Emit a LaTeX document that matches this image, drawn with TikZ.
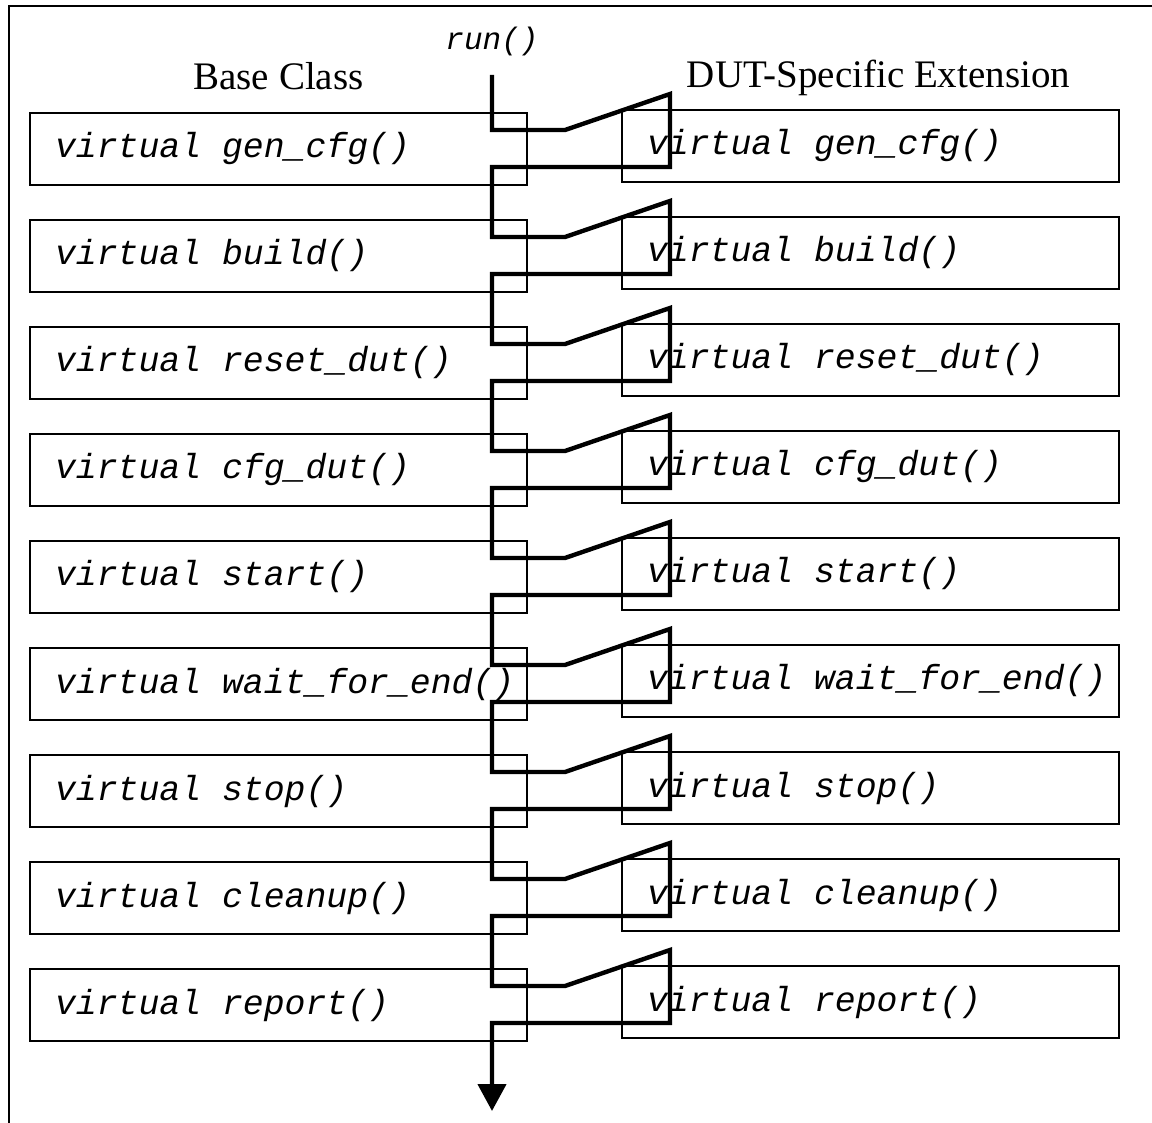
\documentclass[tikz,border=0pt]{standalone}
\usepackage{fontspec}
\setmainfont{Liberation Serif}
\setmonofont{Liberation Mono}
\usetikzlibrary{arrows.meta,positioning,calc}

\begin{document}
\begin{tikzpicture}[
  x=0.5pt, y=-0.5pt,
  method/.style={draw, line width=1pt, outer sep=0pt, minimum height=36pt, text width=223.5pt,
    inner xsep=12.5pt, align=left, font=\fontsize{17.4pt}{20pt}\selectfont\ttfamily\itshape,
    execute at begin node={\spaceskip=0.6em\relax}},
  ext/.style={method, yshift=1.5pt},
  heading/.style={font=\fontsize{19.5pt}{22pt}\selectfont, inner sep=0pt},
  call/.style={font=\fontsize{15.5pt}{18pt}\selectfont\ttfamily\itshape, inner sep=0pt},
  flow/.style={line width=2.2pt, line join=miter},
  frame/.style={line width=1pt},
]
  \useasboundingbox (0,0) rectangle (1152,1123);
  \draw[frame] (9,1123) |- (1152,6);

  % Base class methods
  \node[method] (base1) at (278.5,149) {virtual~gen\_cfg()};
  \node[method, below=17.5pt of base1] (base2) {virtual~build()};
  \node[method, below=17.5pt of base2] (base3) {virtual~reset\_dut()};
  \node[method, below=17.5pt of base3] (base4) {virtual~cfg\_dut()};
  \node[method, below=17.5pt of base4] (base5) {virtual~start()};
  \node[method, below=17.5pt of base5] (base6) {virtual~wait\_for\_end()};
  \node[method, below=17.5pt of base6] (base7) {virtual~stop()};
  \node[method, below=17.5pt of base7] (base8) {virtual~cleanup()};
  \node[method, below=17.5pt of base8] (base9) {virtual~report()};

  % DUT-specific methods
  \node[ext, right=47.5pt of base1] (ext1) {virtual~gen\_cfg()};
  \node[ext, right=47.5pt of base2] (ext2) {virtual~build()};
  \node[ext, right=47.5pt of base3] (ext3) {virtual~reset\_dut()};
  \node[ext, right=47.5pt of base4] (ext4) {virtual~cfg\_dut()};
  \node[ext, right=47.5pt of base5] (ext5) {virtual~start()};
  \node[ext, right=47.5pt of base6] (ext6) {virtual~wait\_for\_end()};
  \node[ext, right=47.5pt of base7] (ext7) {virtual~stop()};
  \node[ext, right=47.5pt of base8] (ext8) {virtual~cleanup()};
  \node[ext, right=47.5pt of base9] (ext9) {virtual~report()};

  % Titles
  \node[heading, above=11.5pt of base1, anchor=base] (basetitle) {Base Class};
  \node[heading, above=11pt of ext1, anchor=base, xshift=4pt] (exttitle) {DUT-Specific Extension};

  % Call flow
  \coordinate (entry) at ($(base1.north east)+(-35,-38)$);
  \node[call, above=12.5pt of entry, anchor=base] (run) {run()};
  \foreach \i in {1,...,9} {
    \coordinate (in\i) at ($(base\i.north east)+(-35,17)$);
    \coordinate (kink\i) at ($(base\i.north east)+(38,17)$);
    \coordinate (wtop\i) at ($(ext\i.north west)+(48,-16)$);
    \coordinate (wbot\i) at ($(ext\i.north west)+(48,57)$);
    \coordinate (out\i) at ($(base\i.north east)+(-35,54)$);
  }
  \coordinate (exit) at ($(out9)+(0,88)$);
  \draw[flow, -{Triangle[width=14pt,length=13.5pt]}] (entry)
    \foreach \i in {1,...,9} { -- (in\i) -- (kink\i) -- (wtop\i) -- (wbot\i) -- (out\i) }
    -- (exit);
\end{tikzpicture}
\end{document}
